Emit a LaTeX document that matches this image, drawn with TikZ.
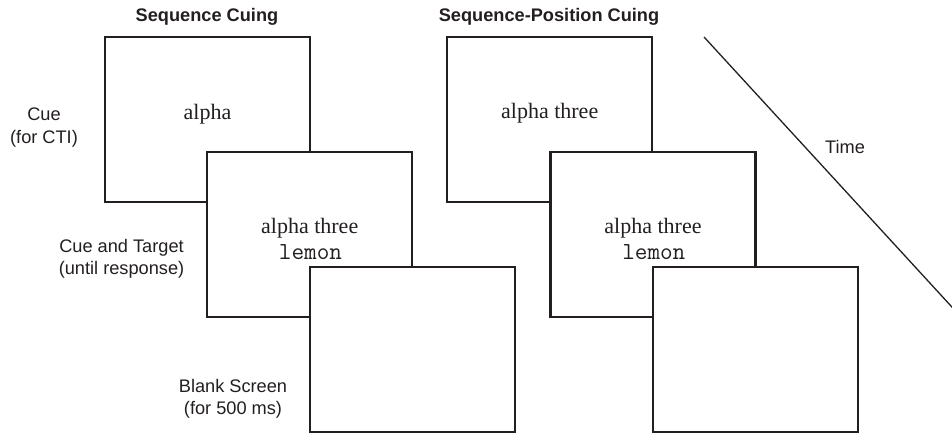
\documentclass[tikz,border=0pt]{standalone}
\usepackage{fontspec}
\setmainfont{Liberation Serif}
\setsansfont{Liberation Sans}
\definecolor{ink}{HTML}{231F20}
\begin{document}
\begin{tikzpicture}[x=1pt,y=-1pt,
  screen/.style={draw=ink,line width=2.3pt,fill=white,minimum width=205pt,minimum height=165pt,inner sep=0pt},
  lbl/.style={font=\fontsize{18.2}{22}\sffamily,text=ink,anchor=base,inner sep=0pt},
  ttl/.style={font=\fontsize{18.2}{22}\sffamily\bfseries,text=ink,anchor=base,inner sep=0pt},
  stim/.style={font=\fontsize{22}{26}\rmfamily,text=ink,anchor=base,inner sep=0pt},
  mono/.style={font=\fontsize{24.5}{28}\ttfamily,text=ink,anchor=base,inner sep=0pt}]
\useasboundingbox (0,0) rectangle (952,433);
% titles
\node[ttl] (t1) at (207,22) {Sequence Cuing};
\node[ttl] (t2) at (549,22) {Sequence-Position Cuing};
% left labels
\node[lbl] (l1a) at (44,121) {Cue};
\node[lbl] (l1b) at (44,143) {(for CTI)};
\node[lbl] (l2a) at (121.5,252) {Cue and Target};
\node[lbl] (l2b) at (121.5,274) {(until response)};
\node[lbl] (l3a) at (233,392) {Blank Screen};
\node[lbl] (l3b) at (233,414) {(for 500 ms)};
% sequence cuing screens
\node[screen] (a1) at (207.5,119.5) {};
\node[stim] (a1t) at (207.5,119) {alpha};
\node[screen] (a2) at (309.7,234.7) {};
\node[stim] (a2t) at (309.7,233.5) {alpha three};
\node[mono] (a2m) at (310.5,259) {lemon};
\node[screen] (a3) at (412.5,349.7) {};
% sequence-position cuing screens
\node[screen] (b1) at (549.7,119.5) {};
\node[stim] (b1t) at (549.7,118.5) {alpha three};
\node[screen] (b2) at (653,234.7) {};
\node[stim] (b2t) at (653,233.5) {alpha three};
\node[mono] (b2m) at (653.8,259) {lemon};
\node[screen] (b3) at (755.5,349.7) {};
% time arrow
\coordinate (ts) at (704,37);
\coordinate (te) at (962,318);
\draw[ink,line width=1.3pt,-latex] (ts) -- (te);
\node[lbl] (time) at (845,153) {Time};
\end{tikzpicture}
\end{document}
